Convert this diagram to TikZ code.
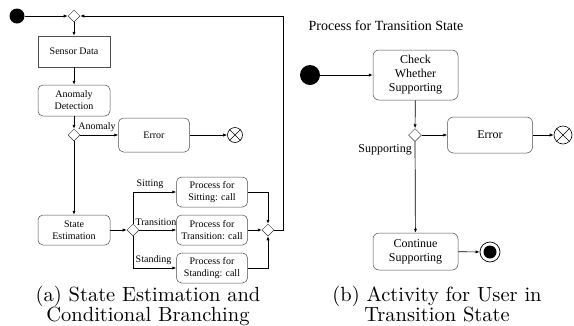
\documentclass[tikz,border=0pt]{standalone}
\usepackage{fontspec}
\newfontfamily\tms{Liberation Serif}
\newfontfamily\capfont[Extension=.otf]{lmroman10-regular}
\usetikzlibrary{arrows.meta,shapes.geometric}
\begin{document}
\begin{tikzpicture}[x=1pt,y=-1pt,
  sbox/.style={draw=black!70,line width=0.5pt,minimum width=72pt,minimum height=31pt,align=center,inner sep=1pt,font=\tms\fontsize{10}{12}\selectfont},
  rbox/.style={sbox,rounded corners=5pt},
  bbox/.style={draw=black!70,line width=0.5pt,rounded corners=6pt,minimum width=85pt,align=center,inner sep=1pt,font=\tms\fontsize{12}{14}\selectfont},
  dec/.style={diamond,draw=black!80,line width=0.5pt,inner sep=0pt,minimum width=12pt,minimum height=12pt},
  startdot/.style={circle,fill=black,inner sep=0pt},
  xfinal/.style={circle,draw,line width=0.6pt,inner sep=0pt},
  lbl/.style={inner sep=1pt,font=\tms\fontsize{10}{12}\selectfont},
  arr/.style={-{Latex[length=4pt,width=3.2pt]},line width=0.7pt},
  captxt/.style={anchor=north,align=center,inner sep=0pt,font=\capfont\fontsize{20.5}{18.5}\selectfont}
]
\useasboundingbox (0,0) rectangle (574,325);

% ---------- (a) ----------
\node[startdot,minimum size=15pt] (s1) at (17,16) {};
\node[dec] (d1) at (74,16) {};
\node[sbox] (sensor) at (74,51.5) {Sensor Data};
\node[rbox] (anom) at (74,100.5) {Anomaly\\Detection};
\node[dec] (d2) at (74,135) {};
\node[rbox,minimum width=71pt,minimum height=34pt] (err1) at (154,135) {Error};
\node[xfinal,minimum size=15pt] (x1) at (235,135) {};
\draw[line width=0.6pt] (x1.north east) -- (x1.south west) (x1.north west) -- (x1.south east);
\node[rbox,minimum height=30pt] (state) at (74,230) {State\\Estimation};
\node[dec] (d3) at (133,230) {};
\node[rbox,minimum width=71pt,minimum height=30pt] (sit) at (212,192) {Process for\\Sitting: call};
\node[rbox,minimum width=71pt,minimum height=30pt] (trans) at (212,230) {Process for\\Transition: call};
\node[rbox,minimum width=71pt,minimum height=30pt] (stand) at (212,268) {Process for\\Standing: call};
\node[dec] (d4) at (268,230) {};
\coordinate (loop) at (283,16);

\node[lbl] (lanom) at (97,127) {Anomaly};
\node[lbl] (lsit) at (150,184) {Sitting};
\node[lbl] (ltrans) at (156,222) {Transition};
\node[lbl] (lstand) at (153.5,260) {Standing};

\draw[arr] (s1) -- (d1);
\draw[arr] (d1) -- (sensor);
\draw[arr] (sensor) -- (anom);
\draw[arr] (anom) -- (d2);
\draw[arr] (d2) -- (err1);
\draw[arr] (err1) -- (x1);
\draw[arr] (d2) -- (state);
\draw[arr] (state) -- (d3);
\draw[arr] (d3.north) |- (sit.west);
\draw[arr] (d3) -- (trans);
\draw[arr] (d3.south) |- (stand.west);
\draw[arr] (sit.east) -| (d4.north);
\draw[arr] (trans) -- (d4);
\draw[arr] (stand.east) -| (d4.south);
\draw[arr] (d4.east) -| (loop) -- (d1.east);

\node[captxt] (capa) at (148,285.5) {(a) State Estimation and\\Conditional Branching};

% ---------- (b) ----------
\node[inner sep=0pt,font=\tms\fontsize{14}{16}\selectfont] (title) at (386,26) {Process for Transition State};
\node[startdot,minimum size=20pt] (s2) at (310,75) {};
\node[bbox,minimum height=50pt] (check) at (415.5,75) {Check\\Whether\\Supporting};
\node[dec,minimum width=13pt,minimum height=13pt] (d5) at (415,135) {};
\node[bbox,minimum height=36pt] (err2) at (490,135) {Error};
\node[xfinal,minimum size=18pt] (x2) at (563,135) {};
\draw[line width=0.6pt] (x2.north east) -- (x2.south west) (x2.north west) -- (x2.south east);
\node[bbox,minimum height=37pt] (cont) at (415.5,251.5) {Continue\\Supporting};
\node[circle,draw,line width=0.7pt,inner sep=0pt,minimum size=20pt] (endo) at (490,252) {};
\node[circle,fill=black,inner sep=0pt,minimum size=13pt] (endi) at (endo.center) {};
\node[inner sep=1pt,anchor=east,font=\tms\fontsize{12}{14}\selectfont] (lsup) at (413,150) {Supporting};

\draw[arr] (s2) -- (check);
\draw[arr] (check) -- (d5);
\draw[arr] (d5) -- (err2);
\draw[arr] (err2) -- (x2);
\draw[arr] (d5) -- (cont);
\draw[arr] (cont) -- (endo);

\node[captxt] (capb) at (437,285.5) {(b) Activity for User in\\Transition State};
\end{tikzpicture}
\end{document}
